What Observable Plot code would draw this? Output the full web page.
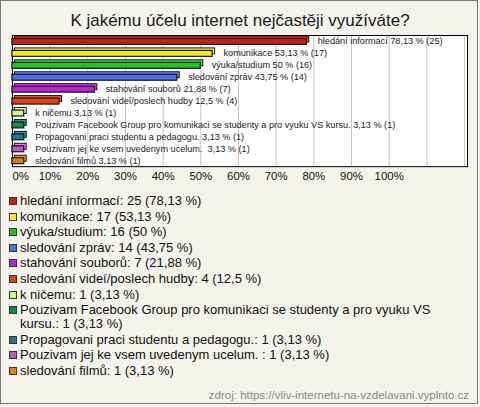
<!DOCTYPE html>
<html>
<head>
<meta charset="utf-8">
<script src="https://cdn.jsdelivr.net/npm/d3@7"></script>
<script src="https://cdn.jsdelivr.net/npm/@observablehq/plot@0.6"></script>
<style>
  html, body { margin: 0; padding: 0; background: #f4f3ec; }
  #wrap { position: relative; width: 478px; height: 404px; border: 1px solid #7a7a7a; box-sizing: border-box; background: #f4f3ec; font-family: "Liberation Sans", Arial, sans-serif; overflow: hidden; }
  #title { position: absolute; left: 0; top: 9px; width: 478px; text-align: center; font-size: 17px; color: #1a1a1a; line-height: 22px; }
  #chart { position: absolute; left: -1px; top: 32px; }
  #legend { position: absolute; left: 8px; top: 193px; width: 455px; font-size: 13px; color: #111; line-height: 14px; }
  .item { position: relative; padding-left: 11px; margin-bottom: 1.6px; }
  .sw { position: absolute; left: 0; top: 3px; width: 8px; height: 8px; border: 1px solid #333; box-sizing: border-box; }
  #source { position: absolute; right: 8px; top: 388px; font-size: 11.5px; color: #8a8a8a; }
</style>
</head>
<body>
<div id="wrap">
  <div id="title"></div>
  <div id="chart"></div>
  <div id="legend"></div>
  <div id="source"></div>
</div>
<script>
const title = "K jakému účelu internet nejčastěji využíváte?";
const source = "zdroj: https://vliv-internetu-na-vzdelavani.vyplnto.cz";
const categories = [
  "hledání informací",
  "komunikace",
  "výuka/studium",
  "sledování zpráv",
  "stahování souborů",
  "sledování videí/poslech hudby",
  "k ničemu",
  "Pouzivam Facebook Group pro komunikaci se studenty a pro vyuku VS kursu.",
  "Propagovani praci studentu a pedagogu.",
  "Pouzivam jej ke vsem uvedenym ucelum. ",
  "sledování filmů"
];
const counts = [25, 17, 16, 14, 7, 4, 1, 1, 1, 1, 1];
const percents = [78.13, 53.13, 50, 43.75, 21.88, 12.5, 3.13, 3.13, 3.13, 3.13, 3.13];
const colors = ["#c4220f", "#fde81a", "#1fc41f", "#4a70e2", "#bd22d6", "#de4214", "#caf78c", "#118a50", "#20768e", "#b45cc6", "#e67c12"];
const tickValues = [0, 10, 20, 30, 40, 50, 60, 70, 80, 90, 100];

const fmt = v => String(v).replace(".", ",");
const rows = categories.map((c, i) => ({
  cat: c, count: counts[i], pct: percents[i], color: colors[i],
  light: d3.color(colors[i]).brighter(0.7).formatHex(),
  label: `${c} ${fmt(percents[i])} % (${counts[i]})`
}));

document.getElementById("title").textContent = title;
document.getElementById("source").textContent = source;

const chart = Plot.plot({
  width: 480,
  height: 162,
  marginLeft: 12,
  marginRight: 10,
  marginTop: 2,
  marginBottom: 28,
  style: { background: "transparent", fontFamily: "'Liberation Sans', Arial, sans-serif", overflow: "visible" },
  x: { domain: [0, 120.8], axis: null },
  y: { domain: categories, axis: null, padding: 0 },
  marks: [
    Plot.frame({ fill: "white" }),
    Plot.ruleX(d3.range(10, 121, 10), { stroke: "#c4c4c4" }),
    Plot.frame({ stroke: "#000" }),
    // back (3D depth) face
    Plot.barX(rows, { x: "pct", y: "cat", fill: d => d.light, stroke: "#111", strokeWidth: 1, insetTop: 2, insetBottom: 4, dx: 2.5, dy: -1 }),
    // front face
    Plot.barX(rows, { x: "pct", y: "cat", fill: d => d.color, stroke: "#111", strokeWidth: 1.2, insetTop: 3.5, insetBottom: 2.5 }),
    Plot.text(rows, { x: "pct", y: "cat", text: "label", dx: 11, textAnchor: "start", fontSize: 9.2, fill: "#222", letterSpacing: 0.15 }),
    Plot.text(tickValues.slice(0, 1), { x: d => d, frameAnchor: "bottom", dy: 13, text: d => d + "%", textAnchor: "start", fontSize: 11.5, fill: "#111" }),
    Plot.text(tickValues.slice(1), { x: d => d, frameAnchor: "bottom", dy: 13, text: d => d + "%", fontSize: 11.5, fill: "#111" })
  ]
});
document.getElementById("chart").appendChild(chart);

const legend = document.getElementById("legend");
rows.forEach(r => {
  const item = document.createElement("div");
  item.className = "item";
  const sw = document.createElement("span");
  sw.className = "sw";
  sw.style.background = r.color;
  const txt = document.createElement("span");
  txt.textContent = `${r.cat}: ${r.count} (${fmt(r.pct)} %)`;
  item.appendChild(sw);
  item.appendChild(txt);
  legend.appendChild(item);
});
</script>
</body>
</html>
